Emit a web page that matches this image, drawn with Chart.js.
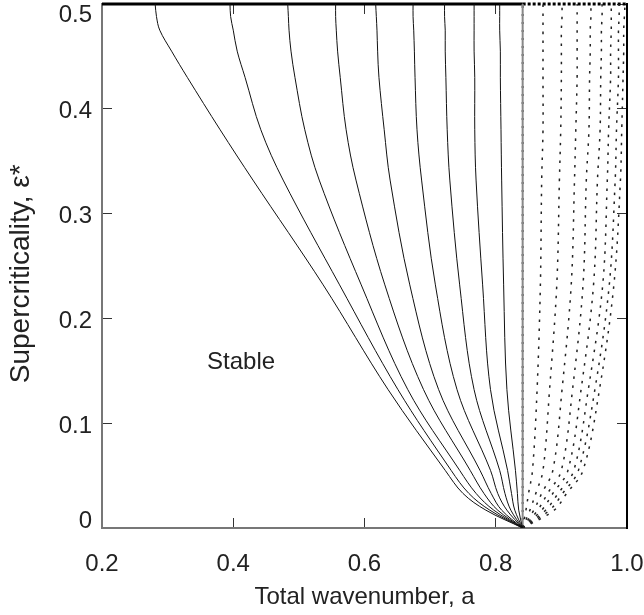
<!DOCTYPE html>
<html>
<head>
<meta charset="utf-8">
<script src="https://cdn.jsdelivr.net/npm/chart.js@4.4.0/dist/chart.umd.min.js"></script>
<style>
  html, body { margin: 0; padding: 0; background: #fff; }
  #plot { display: block; }
</style>
</head>
<body>
<canvas id="plot" width="644" height="615"></canvas>
<script>
// supercriticality levels shared by every curve below
var epsLevels = [0, 0.017, 0.033, 0.055, 0.132, 0.232, 0.332, 0.38, 0.43, 0.455, 0.475, 0.488, 0.5];

// wavenumber a of each solid boundary at the levels above
var solidCurves = [
  [0.841, 0.785, 0.750, 0.723, 0.636, 0.537, 0.430, 0.380, 0.330, 0.306, 0.288, 0.283, 0.281],
  [0.841, 0.791, 0.759, 0.732, 0.651, 0.562, 0.476, 0.442, 0.418, 0.406, 0.400, 0.396, 0.395],
  [0.841, 0.797, 0.770, 0.745, 0.666, 0.595, 0.531, 0.509, 0.494, 0.488, 0.485, 0.484, 0.483],
  [0.841, 0.803, 0.782, 0.761, 0.690, 0.631, 0.587, 0.572, 0.563, 0.559, 0.557, 0.556, 0.556],
  [0.841, 0.809, 0.793, 0.776, 0.713, 0.669, 0.639, 0.630, 0.622, 0.620, 0.619, 0.618, 0.617],
  [0.841, 0.817, 0.803, 0.792, 0.741, 0.708, 0.687, 0.680, 0.677, 0.676, 0.675, 0.674, 0.674],
  [0.841, 0.823, 0.814, 0.806, 0.767, 0.745, 0.730, 0.726, 0.724, 0.723, 0.723, 0.722, 0.722],
  [0.841, 0.829, 0.824, 0.818, 0.792, 0.780, 0.770, 0.768, 0.768, 0.767, 0.767, 0.767, 0.767],
  [0.841, 0.835, 0.833, 0.830, 0.817, 0.812, 0.809, 0.808, 0.807, 0.807, 0.806, 0.806, 0.806]
];

// dotted boundaries on the short-wave side
var dottedCurves = [
  [0.841, 0.846, 0.850, 0.856, 0.863, 0.868, 0.870, 0.872, 0.872, 0.872, 0.872, 0.872, 0.872],
  [0.841, 0.852, 0.861, 0.872, 0.882, 0.893, 0.897, 0.899, 0.900, 0.900, 0.900, 0.901, 0.901],
  [0.841, 0.858, 0.870, 0.887, 0.901, 0.915, 0.920, 0.922, 0.924, 0.924, 0.924, 0.924, 0.924],
  [0.841, 0.864, 0.879, 0.900, 0.917, 0.933, 0.938, 0.942, 0.943, 0.944, 0.944, 0.945, 0.945],
  [0.841, 0.870, 0.887, 0.910, 0.930, 0.949, 0.955, 0.959, 0.960, 0.961, 0.961, 0.962, 0.962],
  [0.841, 0.876, 0.895, 0.919, 0.941, 0.963, 0.970, 0.972, 0.975, 0.975, 0.976, 0.976, 0.976],
  [0.841, 0.882, 0.902, 0.926, 0.951, 0.973, 0.982, 0.984, 0.987, 0.987, 0.987, 0.988, 0.988],
  [0.841, 0.889, 0.908, 0.933, 0.958, 0.980, 0.990, 0.992, 0.994, 0.995, 0.995, 0.996, 0.997]
];

var aCrit = 0.841;
var xTicks = [0.2, 0.4, 0.6, 0.8, 1.0];
var yTicks = [0, 0.1, 0.2, 0.3, 0.4, 0.5];
var stablePos = [0.412, 0.158];

var FONT = '"Liberation Sans", Arial, Helvetica, sans-serif';
var TEXT = '#222';

function toPoints(row) {
  return row.map(function(a, i) { return { x: a, y: epsLevels[i] }; });
}

var datasets = [];
solidCurves.forEach(function(row) {
  datasets.push({
    data: toPoints(row),
    borderColor: '#111',
    borderWidth: 1,
    tension: 0.35
  });
});
dottedCurves.forEach(function(row) {
  datasets.push({
    data: toPoints(row),
    borderColor: '#222',
    borderWidth: 1.5,
    borderDash: [2.5, 6.5],
    tension: 0.35
  });
});

// marginal line at the critical wavenumber
datasets.push({ data: [{ x: aCrit, y: 0 }, { x: aCrit, y: 0.5 }], borderColor: '#888', borderWidth: 2 });
datasets.push({ data: [{ x: aCrit, y: 0 }, { x: aCrit, y: 0.5 }], borderColor: '#222', borderWidth: 2, borderDash: [2, 6] });

// curves pinned to the upper edge
datasets.push({ data: [{ x: 0.2, y: 0.5 }, { x: aCrit, y: 0.5 }], borderColor: '#000', borderWidth: 3, clip: false });
datasets.push({ data: [{ x: aCrit, y: 0.5 }, { x: 1.0, y: 0.5 }], borderColor: '#000', borderWidth: 3, borderDash: [3, 2], clip: false });

var stableLabel = {
  id: 'stableLabel',
  afterDatasetsDraw: function(chart) {
    var ctx = chart.ctx;
    ctx.save();
    ctx.font = '24px ' + FONT;
    ctx.fillStyle = TEXT;
    ctx.textAlign = 'center';
    ctx.textBaseline = 'middle';
    ctx.fillText('Stable', chart.scales.x.getPixelForValue(stablePos[0]), chart.scales.y.getPixelForValue(stablePos[1]));
    ctx.restore();
  }
};

function tickGrid() {
  return { drawOnChartArea: false, drawTicks: true, tickLength: -10, color: '#333', lineWidth: 1 };
}

var chart = new Chart(document.getElementById('plot').getContext('2d'), {
  type: 'line',
  data: { datasets: datasets },
  options: {
    responsive: false,
    maintainAspectRatio: false,
    animation: false,
    devicePixelRatio: 1,
    events: [],
    layout: { padding: { top: 4, right: 17, bottom: 0, left: 0 } },
    elements: { point: { radius: 0 }, line: { tension: 0 } },
    plugins: { legend: { display: false }, tooltip: { enabled: false } },
    scales: {
      x: {
        type: 'linear',
        position: 'bottom',
        min: 0.2,
        max: 1.0,
        afterBuildTicks: function(s) { s.ticks = xTicks.map(function(v) { return { value: v }; }); },
        afterFit: function(s) { s.height = 87; s.paddingLeft = 0; s.paddingRight = 0; },
        grid: tickGrid(),
        border: { display: true, color: '#777', width: 2 },
        ticks: {
          padding: 32,
          color: TEXT,
          maxRotation: 0,
          autoSkip: false,
          font: { family: FONT, size: 24 },
          callback: function(v) { return v.toFixed(1); }
        },
        title: {
          display: true,
          text: 'Total wavenumber, a',
          color: TEXT,
          font: { family: FONT, size: 24 },
          padding: { top: 0, bottom: 3 }
        }
      },
      y: {
        type: 'linear',
        position: 'left',
        min: 0,
        max: 0.5,
        afterBuildTicks: function(s) { s.ticks = yTicks.map(function(v) { return { value: v }; }); },
        afterFit: function(s) { s.width = 102; s.paddingTop = 0; s.paddingBottom = 0; },
        grid: tickGrid(),
        border: { display: true, color: '#777', width: 2 },
        ticks: {
          padding: 20,
          labelOffset: 3,
          color: TEXT,
          autoSkip: false,
          font: function(ctx) {
            var v = ctx.tick ? ctx.tick.value : null;
            var lh = 1.2;
            if (v === 0.5) lh = '16px';
            if (v === 0) lh = '20px';
            return { family: FONT, size: 24, lineHeight: lh };
          },
          callback: function(v) {
            if (v === 0.5) return ['', '0.5'];
            if (v === 0) return ['0', ''];
            return v.toFixed(1);
          }
        },
        title: {
          display: true,
          text: 'Supercriticality, \u03b5*  ',
          color: TEXT,
          font: { family: FONT, size: 28 },
          padding: { top: 4, bottom: 0 }
        }
      },
      x2: {
        type: 'linear',
        position: 'top',
        min: 0.2,
        max: 1.0,
        afterBuildTicks: function(s) { s.ticks = xTicks.map(function(v) { return { value: v }; }); },
        afterFit: function(s) { s.height = 0; s.paddingLeft = 0; s.paddingRight = 0; },
        grid: tickGrid(),
        border: { display: false },
        ticks: { display: false }
      },
      y2: {
        type: 'linear',
        position: 'right',
        min: 0,
        max: 0.5,
        afterBuildTicks: function(s) { s.ticks = yTicks.map(function(v) { return { value: v }; }); },
        afterFit: function(s) { s.width = 0; s.paddingTop = 0; s.paddingBottom = 0; },
        grid: tickGrid(),
        border: { display: true, color: '#000', width: 2 },
        ticks: { display: false }
      }
    }
  },
  plugins: [stableLabel]
});
</script>
</body>
</html>
